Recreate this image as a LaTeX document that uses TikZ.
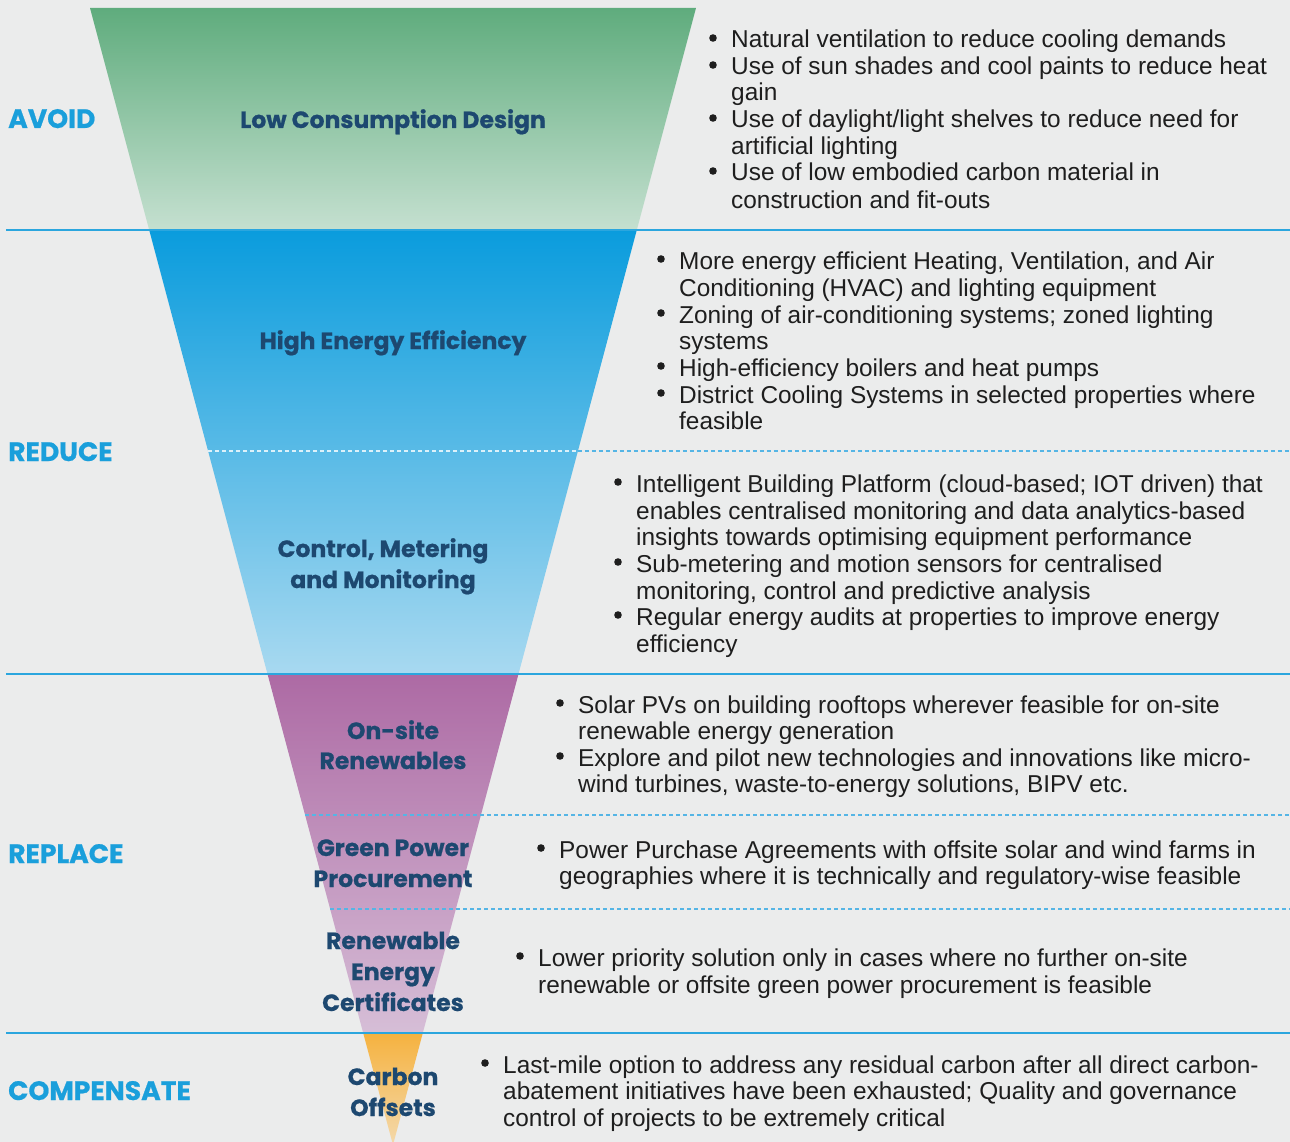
\documentclass[tikz,border=0pt]{standalone}
\usepackage{fontspec}
\setmainfont{Liberation Sans}
\newfontfamily\hfont{Poppins}[BoldFeatures={FakeBold=0.7}]
\definecolor{bgc}{HTML}{EBECEC}
\definecolor{bodyc}{HTML}{1E1E1E}
\definecolor{navy}{HTML}{1D4870}
\definecolor{lblue}{HTML}{1A9FDB}
\definecolor{lineblue}{HTML}{2BA6DE}
\definecolor{dashblue}{HTML}{55B5E5}
\definecolor{gtop}{HTML}{5FAC7D}
\definecolor{gbot}{HTML}{C5E0D0}
\definecolor{btop}{HTML}{0A9CDD}
\definecolor{bbot}{HTML}{A8D9F0}
\definecolor{ptop}{HTML}{AD6AA4}
\definecolor{pbot}{HTML}{D6BED7}
\definecolor{otop}{HTML}{F5B23F}
\definecolor{obot}{HTML}{F4D9AC}
\tikzset{
  body/.style={font=\fontsize{24.4}{27}\selectfont, text=bodyc, inner sep=0pt, anchor=base west},
  flabel/.style={font=\hfont\bfseries\fontsize{23.5}{31}\selectfont, text=navy, inner sep=0pt, anchor=base},
  slabel/.style={font=\hfont\bfseries\fontsize{26.6}{30}\selectfont, text=lblue, inner sep=0pt, anchor=base west},
  sepline/.style={draw=lineblue, line width=1.5pt},
  dsep/.style={draw=dashblue, line width=1.2pt, dash pattern=on 4pt off 3pt},
  dsepw/.style={draw=white, draw opacity=0.8, line width=1.2pt, dash pattern=on 4pt off 3pt},
  bdot/.style={fill=bodyc},
}
\newcounter{tl}
\newcommand\bitem[3]{\stepcounter{tl}\fill[bdot] (#1-18,#2-10) circle[radius=3.8pt];\node[body] (t\arabic{tl}) at (#1,#2) {#3};}
\newcommand\bcont[3]{\stepcounter{tl}\node[body] (t\arabic{tl}) at (#1,#2) {#3};}
\begin{document}
\begin{tikzpicture}[x=1pt,y=-1pt]
\useasboundingbox (0,0) rectangle (1290,1142);
\fill[bgc] (0,0) rectangle (1290,1142);
\begin{scope}
\clip (0,0) rectangle (1290,1142);
% funnel sections
\shade[top color=gtop, bottom color=gbot] (90,8) -- (696,8) -- (636.8,230) -- (149.2,230) -- cycle;
\shade[top color=btop, bottom color=bbot] (149.2,230) -- (636.8,230) -- (518.5,674) -- (267.5,674) -- cycle;
\shade[top color=ptop, bottom color=pbot] (267.5,674) -- (518.5,674) -- (422.8,1033) -- (363.2,1033) -- cycle;
\shade[top color=otop, bottom color=obot] (363.2,1033) -- (422.8,1033) -- (393,1145) -- cycle;
\end{scope}
% separators
\coordinate (s1a) at (6,230);  \coordinate (s1b) at (1290,230);
\coordinate (s2a) at (6,674);  \coordinate (s2b) at (1290,674);
\coordinate (s3a) at (6,1033); \coordinate (s3b) at (1290,1033);
\draw[sepline] (s1a) -- (s1b);
\draw[sepline] (s2a) -- (s2b);
\draw[sepline] (s3a) -- (s3b);
\coordinate (d1a) at (208.1,451); \coordinate (d1m) at (577.9,451); \coordinate (d1b) at (1290,451);
\coordinate (d2a) at (305.1,815); \coordinate (d2b) at (1290,815);
\coordinate (d3a) at (330.1,909); \coordinate (d3b) at (1290,909);
\draw[dsepw] (d1a) -- (d1m);
\draw[dsep] (d1m) -- (d1b);
\draw[dsep] (d2a) -- (d2b);
\draw[dsep] (d3a) -- (d3b);
% section labels
\node[slabel] (avoid) at (8,128) {AVOID};
\node[slabel] (reduce) at (8,461) {REDUCE};
\node[slabel] (replace) at (8,863) {REPLACE};
\node[slabel] (comp) at (8,1100) {COMPENSATE};
% funnel labels
\node[flabel] (f1) at (393,128) {Low Consumption Design};
\node[flabel] (f2) at (393,349) {High Energy Efficiency};
\node[flabel] (f3a) at (383,557) {Control, Metering};
\node[flabel] (f3b) at (383,588) {and Monitoring};
\node[flabel] (f4a) at (393,739) {On-site};
\node[flabel] (f4b) at (393,769) {Renewables};
\node[flabel] (f5a) at (393,856) {Green Power};
\node[flabel] (f5b) at (393,887) {Procurement};
\node[flabel] (f6a) at (393,949) {Renewable};
\node[flabel] (f6b) at (393,980) {Energy};
\node[flabel] (f6c) at (393,1011) {Certificates};
\node[flabel] (f7a) at (393,1085) {Carbon};
\node[flabel] (f7b) at (393,1116) {Offsets};
% avoid
\bitem{731}{48}{Natural ventilation to reduce cooling demands}
\bitem{731}{75}{Use of sun shades and cool paints to reduce heat}
\bcont{731}{101}{gain}
\bitem{731}{128}{Use of daylight/light shelves to reduce need for}
\bcont{731}{155}{artificial lighting}
\bitem{731}{181}{Use of low embodied carbon material in}
\bcont{731}{208}{construction and fit-outs}
% high energy efficiency
\bitem{679}{269}{More energy efficient Heating, Ventilation, and Air}
\bcont{679}{296}{Conditioning (HVAC) and lighting equipment}
\bitem{679}{323}{Zoning of air-conditioning systems; zoned lighting}
\bcont{679}{349}{systems}
\bitem{679}{376}{High-efficiency boilers and heat pumps}
\bitem{679}{403}{District Cooling Systems in selected properties where}
\bcont{679}{429}{feasible}
% control
\bitem{636}{492}{Intelligent Building Platform (cloud-based; IOT driven) that}
\bcont{636}{519}{enables centralised monitoring and data analytics-based}
\bcont{636}{545}{insights towards optimising equipment performance}
\bitem{636}{572}{Sub-metering and motion sensors for centralised}
\bcont{636}{599}{monitoring, control and predictive analysis}
\bitem{636}{625}{Regular energy audits at properties to improve energy}
\bcont{636}{652}{efficiency}
% on-site
\bitem{578}{713}{Solar PVs on building rooftops wherever feasible for on-site}
\bcont{578}{739}{renewable energy generation}
\bitem{578}{766}{Explore and pilot new technologies and innovations like micro-}
\bcont{578}{792}{wind turbines, waste-to-energy solutions, BIPV etc.}
% green power
\bitem{559}{858}{Power Purchase Agreements with offsite solar and wind farms in}
\bcont{559}{884}{geographies where it is technically and regulatory-wise feasible}
% REC
\bitem{538}{966}{Lower priority solution only in cases where no further on-site}
\bcont{538}{993}{renewable or offsite green power procurement is feasible}
% carbon offsets
\bitem{503}{1073}{Last-mile option to address any residual carbon after all direct carbon-}
\bcont{503}{1099}{abatement initiatives have been exhausted; Quality and governance}
\bcont{503}{1126}{control of projects to be extremely critical}
\end{tikzpicture}
\end{document}
